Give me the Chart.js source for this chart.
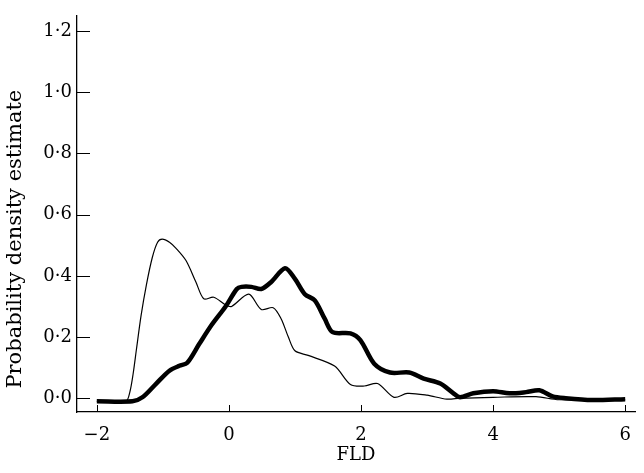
<!DOCTYPE html>
<html>
<head>
<meta charset="utf-8">
<script src="https://cdn.jsdelivr.net/npm/chart.js@4"></script>
<style>
  html, body { margin: 0; padding: 0; background: #fff; }
  #wrap { width: 644px; height: 473px; }
</style>
</head>
<body>
<div id="wrap"><canvas id="chartFld"></canvas></div>
<script>
// thin curve
const xThin = [-2, -1.56, -1.5, -1.45, -1.4, -1.33, -1.25, -1.16, -1.08, -1.01, -0.9, -0.8, -0.65, -0.5, -0.38, -0.23, -0.05, 0.04,
  0.3, 0.49, 0.67, 0.79, 0.9, 1.0, 1.2, 1.6, 1.84, 2.05, 2.25, 2.5, 2.7, 3.0, 3.3, 3.5, 4.0, 4.65, 5.0, 6];
const yThin = [-0.01, -0.01, 0.02, 0.08, 0.16, 0.27, 0.37, 0.46, 0.51, 0.52, 0.51, 0.49, 0.45, 0.38, 0.325, 0.33, 0.305, 0.3,
  0.34, 0.29, 0.296, 0.26, 0.2, 0.155, 0.14, 0.105, 0.045, 0.04, 0.048, 0.003, 0.016, 0.01, -0.003, 0, 0.003, 0.005, -0.005, -0.005];

// thick curve
const xThick = [-2, -1.46, -1.31, -1.1, -0.9, -0.75, -0.63, -0.45, -0.26, -0.05, 0.12, 0.19, 0.34, 0.49, 0.64,
  0.85, 1.0, 1.15, 1.3, 1.45, 1.57, 1.84, 1.99, 2.2, 2.44, 2.73, 2.95, 3.2, 3.4, 3.5, 3.7, 4.0, 4.25, 4.5, 4.7,
  4.9, 5.1, 5.5, 6];
const yThick = [-0.01, -0.01, 0.003, 0.048, 0.09, 0.106, 0.116, 0.177, 0.24, 0.3, 0.357, 0.364, 0.364, 0.357, 0.38,
  0.425, 0.39, 0.34, 0.32, 0.26, 0.216, 0.212, 0.19, 0.113, 0.084, 0.084, 0.064, 0.048, 0.016, 0.003, 0.016, 0.023, 0.016, 0.02, 0.026,
  0.006, 0, -0.006, -0.003];

const yTicks = [0, 0.2, 0.4, 0.6, 0.8, 1.0, 1.2];
const xTicks = [-2, 0, 2, 4, 6];
const yTitle = "Probability density estimate";

const pts = (xs, ys) => xs.map((x, i) => ({ x: x, y: ys[i] }));
const serif = "'DejaVu Serif', 'Liberation Serif', serif";

// ticks pointing into the plot + the y title (sits a bit low in the original)
const axisExtras = {
  id: "axisExtras",
  afterDraw(chart) {
    const c = chart.ctx, a = chart.chartArea;
    c.save();
    c.strokeStyle = "#000";
    c.lineWidth = 1;
    chart.scales.y.ticks.forEach(t => {
      const p = Math.round(chart.scales.y.getPixelForValue(t.value)) + 0.5;
      c.beginPath(); c.moveTo(a.left, p); c.lineTo(a.left + 13, p); c.stroke();
    });
    chart.scales.x.ticks.forEach(t => {
      const p = Math.round(chart.scales.x.getPixelForValue(t.value)) + 0.5;
      c.beginPath(); c.moveTo(p, a.bottom); c.lineTo(p, a.bottom - 7); c.stroke();
    });
    c.translate(16, chart.scales.y.getPixelForValue(0.52));
    c.rotate(-Math.PI / 2);
    c.fillStyle = "#000";
    c.font = "21px " + serif;
    c.textAlign = "center";
    c.textBaseline = "middle";
    c.fillText(yTitle, 0, 0);
    c.restore();
  }
};

new Chart(document.getElementById("chartFld").getContext("2d"), {
  type: "line",
  data: {
    datasets: [
      {
        label: "thin",
        data: pts(xThin, yThin),
        borderColor: "#000",
        borderWidth: 1.2,
        pointRadius: 0,
        tension: 0.3,
        fill: false
      },
      {
        label: "thick",
        data: pts(xThick, yThick),
        borderColor: "#000",
        borderWidth: 4.5,
        pointRadius: 0,
        tension: 0.3,
        fill: false
      }
    ]
  },
  options: {
    responsive: true,
    maintainAspectRatio: false,
    animation: false,
    layout: { padding: { top: 10, right: 4, left: 0, bottom: 0 } },
    plugins: { legend: { display: false }, tooltip: { enabled: false } },
    scales: {
      x: {
        type: "linear",
        min: -2.3,
        max: 6.15,
        afterBuildTicks: s => { s.ticks = xTicks.map(v => ({ value: v })); },
        afterFit: s => { s.height = 61; },
        grid: { display: false, drawTicks: false },
        border: { display: true, color: "#000", width: 1.3 },
        ticks: {
          padding: 13,
          color: "#000",
          font: { family: serif, size: 18 },
          callback: v => (v < 0 ? "\u2212" + Math.abs(v) : String(v))
        },
        title: {
          display: true,
          text: "FLD",
          color: "#000",
          padding: { top: 0, bottom: 7 },
          font: { family: serif, size: 18 }
        }
      },
      y: {
        min: -0.045,
        max: 1.25,
        afterBuildTicks: s => { s.ticks = yTicks.map(v => ({ value: v })); },
        afterFit: s => { s.width = 77; },
        grid: { display: false, drawTicks: false },
        border: { display: true, color: "#000", width: 1.3 },
        ticks: {
          padding: 5,
          color: "#000",
          font: { family: serif, size: 18 },
          callback: v => v.toFixed(1).replace(".", "\u00b7")
        }
      }
    }
  },
  plugins: [axisExtras]
});
</script>
</body>
</html>
